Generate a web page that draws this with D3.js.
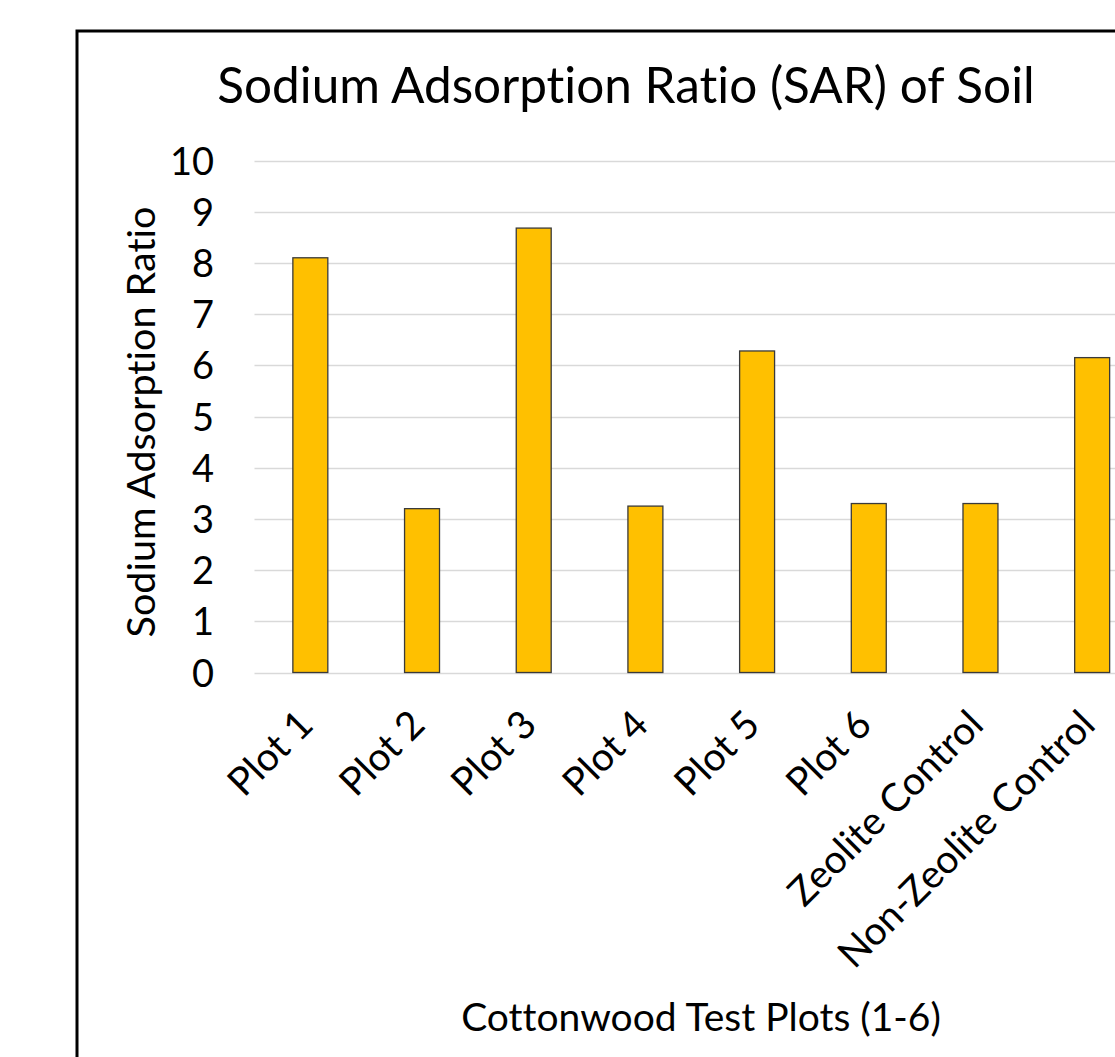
<!DOCTYPE html>
<html>
<head>
<meta charset="utf-8">
<script src="https://cdn.jsdelivr.net/npm/d3@7"></script>
<style>
  body { margin: 0; background: #fff; }
  svg text { font-family: Lato, "Open Sans", sans-serif; fill: #000; font-variant-ligatures: none; }
</style>
</head>
<body>
<div id="chart"></div>
<script>
// Chart data
const categories = ["Plot 1", "Plot 2", "Plot 3", "Plot 4", "Plot 5", "Plot 6", "Zeolite Control", "Non-Zeolite Control"];
const sarValues = [8.1, 3.2, 8.68, 3.25, 6.28, 3.3, 3.3, 6.15];
const yTicks = [0, 1, 2, 3, 4, 5, 6, 7, 8, 9, 10];

const width = 1115;
const height = 1057;

const svg = d3.select("#chart")
    .append("svg")
    .attr("width", width)
    .attr("height", height);

// Outer chart frame (runs off the right and bottom edges)
svg.append("rect")
    .attr("x", 77)
    .attr("y", 31)
    .attr("width", 1200)
    .attr("height", 1100)
    .attr("fill", "#fff")
    .attr("stroke", "#000")
    .attr("stroke-width", 3);

// Scales
const x = d3.scaleBand()
    .domain(categories)
    .range([254.5, 1148])
    .paddingInner(0.687)
    .paddingOuter(0.3435);

const y = d3.scaleLinear()
    .domain([0, 10])
    .range([672.5, 160.5]);

// Gridlines
svg.append("g")
    .selectAll("line")
    .data(yTicks)
    .enter()
    .append("line")
    .attr("x1", 254.5)
    .attr("x2", 1148)
    .attr("y1", d => Math.round(y(d)) + 0.5)
    .attr("y2", d => Math.round(y(d)) + 0.5)
    .attr("stroke", "#d9d9d9")
    .attr("stroke-width", 1.5);

// Y axis labels
const yAxis = d3.axisLeft(y).tickValues(yTicks).tickSize(0).tickPadding(0);
const yg = svg.append("g")
    .attr("transform", "translate(214,0)")
    .call(yAxis);
yg.select(".domain").remove();
yg.selectAll("text")
    .style("font-family", "Lato, sans-serif")
    .style("font-size", "38px")
    .attr("dy", "0.36em")
    .attr("fill", "#000");

// Bars
svg.append("g")
    .selectAll("rect")
    .data(categories)
    .enter()
    .append("rect")
    .attr("x", d => x(d))
    .attr("y", (d, i) => y(sarValues[i]))
    .attr("width", x.bandwidth())
    .attr("height", (d, i) => y(0) - y(sarValues[i]))
    .attr("fill", "#FFC000")
    .attr("stroke", "#3a3a3a")
    .attr("stroke-width", 1.3);

// X axis labels, rotated
const xAxis = d3.axisBottom(x).tickSize(0).tickPadding(0);
const xg = svg.append("g")
    .attr("transform", "translate(0,672)")
    .call(xAxis);
xg.select(".domain").remove();
xg.selectAll("text")
    .style("font-family", "Lato, sans-serif")
    .style("font-size", "39px")
    .attr("text-anchor", "end")
    .attr("dy", null)
    .attr("y", 0)
    .attr("transform", "translate(5,55) rotate(-45)")
    .attr("fill", "#000");

// Title
svg.append("text")
    .attr("x", 626)
    .attr("y", 103)
    .attr("text-anchor", "middle")
    .style("font-size", "49.5px")
    .text("Sodium Adsorption Ratio (SAR) of Soil");

// Axis titles
svg.append("text")
    .attr("transform", "translate(155,422) rotate(-90)")
    .attr("text-anchor", "middle")
    .style("font-size", "39.5px")
    .text("Sodium Adsorption Ratio");

svg.append("text")
    .attr("x", 701)
    .attr("y", 1031)
    .attr("text-anchor", "middle")
    .style("font-size", "39px")
    .text("Cottonwood Test Plots (1-6)");
</script>
</body>
</html>
